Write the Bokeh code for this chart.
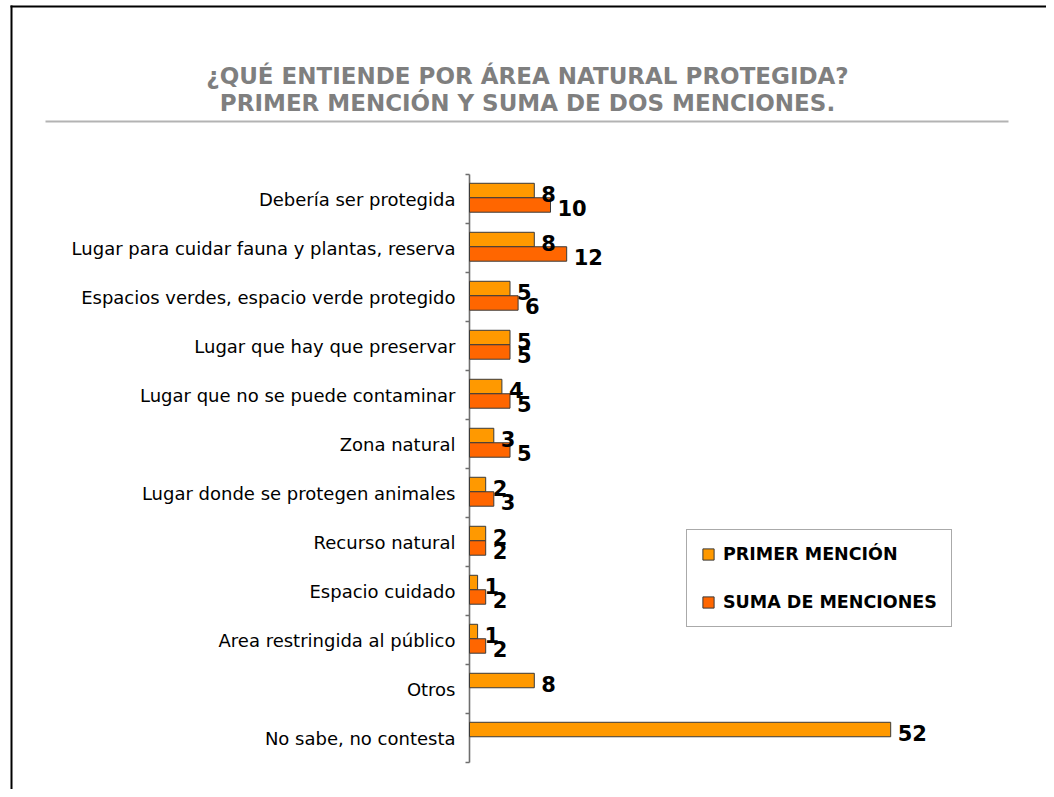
import math
from bokeh.plotting import figure
from bokeh.models import (Range1d, Label, BoxAnnotation, Legend,
                          LegendItem, ColumnDataSource)
from bokeh.core.properties import value
from bokeh.embed import file_html
from bokeh.resources import INLINE

# ---- data ----
categories = [
    "Debería ser protegida",
    "Lugar para cuidar fauna y plantas, reserva",
    "Espacios verdes, espacio verde protegido",
    "Lugar que hay que preservar",
    "Lugar que no se puede contaminar",
    "Zona natural",
    "Lugar donde se protegen animales",
    "Recurso natural",
    "Espacio cuidado",
    "Area restringida al público",
    "Otros",
    "No sabe, no contesta",
]
primer_mencion = [8, 8, 5, 5, 4, 3, 2, 2, 1, 1, 8, 52]
suma_menciones = [10, 12, 6, 5, 5, 5, 3, 2, 2, 2, None, None]
series_names = ["PRIMER MENCIÓN", "SUMA DE MENCIONES"]
title_lines = ["¿QUÉ ENTIENDE POR ÁREA NATURAL PROTEGIDA?",
               "PRIMER MENCIÓN Y SUMA DE DOS MENCIONES."]

# ---- layout (frame covers whole canvas) ----
W, H = 1046, 789
AX_X = 469          # pixel position of value 0
PX_PER_UNIT = 8.1   # pixels per value unit
TOP_Y, CAT_PX = 174, 49   # top of first category, px per category
n = len(categories)
centers = [i + 0.5 for i in range(n)]
bounds = list(range(n + 1))
bar_h = 0.295

x_rng = Range1d(-AX_X / PX_PER_UNIT, (W - AX_X) / PX_PER_UNIT)
y_bottom = n + (H - (TOP_Y + n * CAT_PX)) / CAT_PX
y_top = -TOP_Y / CAT_PX
y_rng = Range1d(y_bottom, y_top)

p = figure(width=W, height=H, output_backend="svg", toolbar_location=None,
           x_range=x_rng, y_range=y_rng, min_border=0)
p.title.visible = False
p.outline_line_color = None
p.xgrid.visible = False
p.ygrid.visible = False
p.xaxis.visible = False
p.yaxis.visible = False
p.background_fill_color = "white"
p.border_fill_color = "white"

# ---- category axis (line, boundary ticks, labels) ----
AXC = "#6e6e6e"
p.segment(x0=0, y0=bounds[0], x1=0, y1=bounds[-1], line_color=AXC, line_width=1.6)
p.ray(x=[0] * len(bounds), y=bounds, length=4, length_units="screen",
      angle=math.pi, line_color=AXC, line_width=1.5)
p.text(x=[0] * n, y=centers, text=categories, x_offset=-14,
       text_align="right", text_baseline="middle",
       text_font=value("DejaVu Sans"), text_font_size="18px",
       text_color="#000000")

# ---- bars ----
src1 = ColumnDataSource(dict(
    y=[c - 0.173 for c in centers], v=primer_mencion,
    t=[str(v) for v in primer_mencion]))
idx2 = [i for i, v in enumerate(suma_menciones) if v is not None]
src2 = ColumnDataSource(dict(
    y=[centers[i] + 0.122 for i in idx2], v=[suma_menciones[i] for i in idx2],
    t=[str(suma_menciones[i]) for i in idx2]))

r1 = p.hbar(y="y", left=0, right="v", height=bar_h, source=src1,
            fill_color="#FF9900", line_color="#3a3a3a", line_width=1)
r2 = p.hbar(y="y", left=0, right="v", height=bar_h, source=src2,
            fill_color="#FF6600", line_color="#3a3a3a", line_width=1)

for src in (src1, src2):
    p.text(x="v", y="y", text="t", source=src, x_offset=7, y_offset=3,
           text_align="left", text_baseline="middle",
           text_font=value("DejaVu Sans"), text_font_style="bold",
           text_font_size="21px", text_color="#000000")

# ---- title (screen units: x from left, y from bottom) ----
for k, line in enumerate(title_lines):
    p.add_layout(Label(x=527, y=H - (75 + 27 * k), x_units="screen", y_units="screen",
                       text=line, text_align="center", text_baseline="middle",
                       text_font="DejaVu Sans", text_font_style="bold",
                       text_font_size="23px", text_color="#7f7f7f"))

def screen_box(l, r, t, b, color):
    return BoxAnnotation(left=l, right=r, top=H - t, bottom=H - b,
                         left_units="screen", right_units="screen",
                         bottom_units="screen", top_units="screen",
                         fill_color=color, fill_alpha=1, line_color=None,
                         level="underlay")

p.add_layout(screen_box(45, 1008, 120, 122, "#b3b3b3"))   # separator
p.add_layout(screen_box(10, 12, 5, H + 5, "#000000"))      # left slide border
p.add_layout(screen_box(10, W + 5, 5, 7, "#000000"))       # top slide border

# ---- legend ----
legend = Legend(items=[LegendItem(label=series_names[0], renderers=[r1]),
                       LegendItem(label=series_names[1], renderers=[r2])],
                location=(686, H - 627), orientation="vertical")
legend.label_text_font = "DejaVu Sans"
legend.label_text_font_style = "bold"
legend.label_text_font_size = "17.5px"
legend.label_text_color = "#000000"
legend.glyph_width = 14
legend.glyph_height = 14
legend.label_height = 20
legend.label_standoff = 8
legend.spacing = 28
legend.padding = 14
legend.margin = 0
legend.border_line_color = "#555555"
legend.border_line_width = 1
legend.background_fill_color = "white"
legend.background_fill_alpha = 1
p.add_layout(legend, "center")

open("out.html", "w").write(file_html(p, INLINE))
